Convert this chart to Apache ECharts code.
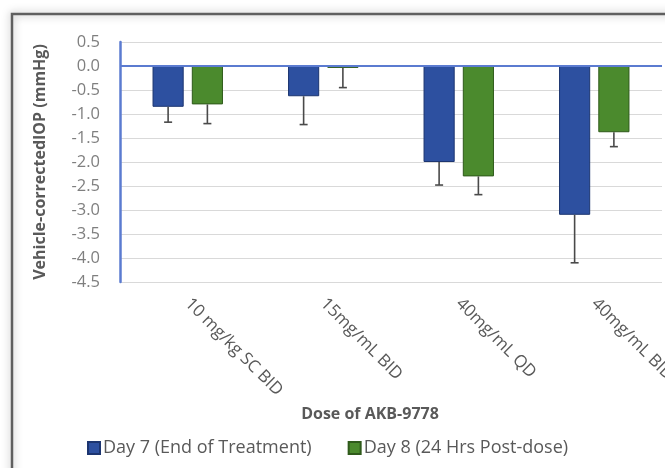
<!DOCTYPE html>
<html>
<head>
<meta charset="utf-8">
<script src="https://cdn.jsdelivr.net/npm/echarts@6/dist/echarts.min.js"></script>
<style>html,body{margin:0;padding:0;background:#fff}#c{width:665px;height:468px}</style>
</head>
<body>
<div id="c"></div>
<script>
var categories = ['10 mg/kg SC BID', '15mg/mL BID', '40mg/mL QD', '40mg/mL BID'];
var seriesNames = ['Day 7 (End of Treatment)', 'Day 8 (24 Hrs Post-dose)'];
var day7Values = [-0.85, -0.63, -2.0, -3.1];
var day7ErrLow = [-1.17, -1.22, -2.48, -4.1];
var day8Values = [-0.8, -0.04, -2.3, -1.38];
var day8ErrLow = [-1.2, -0.45, -2.68, -1.68];

var FONT = 'Open Sans';
var BAR_W = 0.23, BAR_GAP = 0.26;

function errSeries(vals, lows, side) {
  return {
    type: 'custom',
    silent: true,
    z: 5,
    data: vals.map(function (v, i) { return [i, v, lows[i]]; }),
    renderItem: function (params, api) {
      var band = api.size([1, 0])[0];
      var w = BAR_W * band;
      var off = (w + BAR_GAP * w) / 2 * side;
      var top = api.coord([api.value(0), api.value(1)]);
      var bot = api.coord([api.value(0), api.value(2)]);
      var x = top[0] + off;
      var cap = 4;
      var st = { stroke: '#4a4a4a', lineWidth: 1.6 };
      return {
        type: 'group',
        children: [
          { type: 'line', shape: { x1: x, y1: top[1], x2: x, y2: bot[1] }, style: st },
          { type: 'line', shape: { x1: x - cap, y1: bot[1], x2: x + cap, y2: bot[1] }, style: st }
        ]
      };
    }
  };
}

var chart = echarts.init(document.getElementById('c'));
chart.setOption({
  animation: false,
  textStyle: { fontFamily: FONT },
  graphic: [
    { type: 'rect', shape: { x: 12, y: 14, width: 700, height: 500 }, style: { fill: 'none', stroke: '#5f5f5f', lineWidth: 2.5, shadowBlur: 8, shadowColor: 'rgba(0,0,0,0.35)' }, z: -10 }
  ],
  grid: { left: 120, right: 3, top: 42, bottom: 186, containLabel: false, outerBoundsMode: 'none' },
  legend: {
    bottom: 6,
    left: 82,
    itemWidth: 12,
    itemHeight: 12,
    itemGap: 36,
    icon: 'rect',
    textStyle: { fontFamily: FONT, fontSize: 18, color: '#595959', padding: [0, 0, 0, -2] },
    data: seriesNames
  },
  xAxis: {
    type: 'category',
    data: categories,
    name: 'Dose of AKB-9778',
    nameLocation: 'middle',
    nameGap: 124,
    nameTextStyle: { fontFamily: FONT, fontSize: 16, fontWeight: 'bold', color: '#595959', padding: [0, 42, 0, 0] },
    axisLine: { show: false, onZero: false },
    axisTick: { show: false },
    axisLabel: { rotate: -45, margin: 19, fontFamily: FONT, fontSize: 17, color: '#595959' }
  },
  yAxis: {
    type: 'value',
    min: -4.5,
    max: 0.5,
    interval: 0.5,
    name: 'Vehicle-correctedIOP (mmHg)',
    nameLocation: 'middle',
    nameGap: 72,
    nameTextStyle: { fontFamily: FONT, fontSize: 16, fontWeight: 'bold', color: '#595959' },
    axisLine: { show: true, lineStyle: { color: '#5b7bd0', width: 2.5 } },
    axisTick: { show: false },
    axisLabel: { margin: 20, fontFamily: FONT, fontSize: 16.5, color: '#7f7f7f', formatter: function (v) { return v.toFixed(1); } },
    splitLine: { lineStyle: { color: '#d9d9d9', width: 1 } }
  },
  series: [
    {
      name: seriesNames[0], type: 'bar', data: day7Values,
      barWidth: (BAR_W * 100) + '%', barGap: (BAR_GAP * 100) + '%',
      itemStyle: { color: '#2d50a0', borderColor: '#1c3570', borderWidth: 1 },
      markLine: { silent: true, symbol: 'none', label: { show: false }, lineStyle: { color: '#5b7bd0', width: 2, type: 'solid' }, data: [{ yAxis: 0 }] },
      z: 3
    },
    {
      name: seriesNames[1], type: 'bar', data: day8Values,
      barWidth: (BAR_W * 100) + '%', barGap: (BAR_GAP * 100) + '%',
      itemStyle: { color: '#4b8a2d', borderColor: '#2f5a1b', borderWidth: 1 },
      z: 3
    },
    errSeries(day7Values, day7ErrLow, -1),
    errSeries(day8Values, day8ErrLow, 1)
  ]
});
</script>
</body>
</html>
